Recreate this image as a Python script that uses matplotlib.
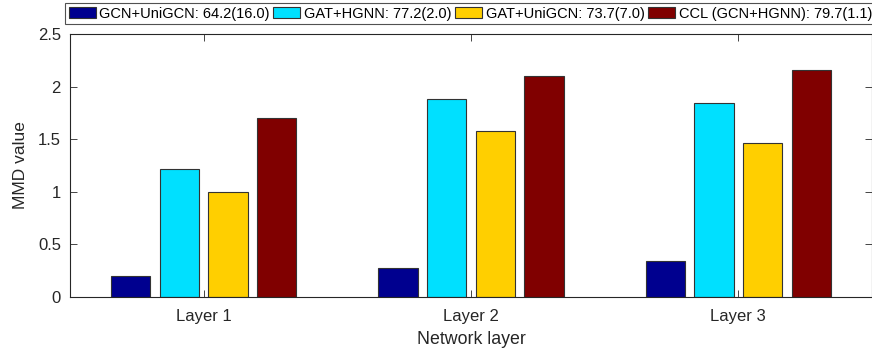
import numpy as np
import matplotlib.pyplot as plt

plt.rcParams['font.family'] = ['Liberation Sans', 'DejaVu Sans']

# MMD values per network layer for each model combination
layers = ['Layer 1', 'Layer 2', 'Layer 3']
gcn_unigcn = [0.20, 0.28, 0.34]
gat_hgnn = [1.22, 1.88, 1.84]
gat_unigcn = [1.00, 1.58, 1.46]
ccl_gcn_hgnn = [1.70, 2.10, 2.16]

series = [gcn_unigcn, gat_hgnn, gat_unigcn, ccl_gcn_hgnn]
labels = ['GCN+UniGCN: 64.2(16.0)', 'GAT+HGNN: 77.2(2.0)',
          'GAT+UniGCN: 73.7(7.0)', 'CCL (GCN+HGNN): 79.7(1.1)']
colors = ['#00008F', '#00E0FF', '#FFCF00', '#800000']

yticks = [0, 0.5, 1, 1.5, 2, 2.5]
ytick_labels = ['0', '0.5', '1', '1.5', '2', '2.5']

fig = plt.figure(figsize=(8.72, 3.55), dpi=100)
ax = fig.add_axes([0.0803, 0.1634, 0.9197, 0.7408])

x = np.arange(1, len(layers) + 1)
width = 0.148
step = 0.182
for i, vals in enumerate(series):
    offset = (i - 1.5) * step
    ax.bar(x + offset, vals, width, color=colors[i], edgecolor='#333333',
           linewidth=0.8, label=labels[i])

ax.set_xlim(0.5, 3.5)
ax.set_ylim(0, 2.5)
ax.set_xticks(x)
ax.set_xticklabels(layers)
ax.set_yticks(yticks)
ax.set_yticklabels(ytick_labels)
ax.tick_params(direction='in', top=True, right=True, length=5,
               labelsize=12, colors='#262626', width=0.6)
ax.tick_params(axis='x', pad=8.5)
ax.tick_params(axis='y', pad=6.5)
for s in ax.spines.values():
    s.set_color('#262626')
    s.set_linewidth(0.8)
ax.set_xlabel('Network layer', fontsize=12.8, color='#262626', labelpad=5)
ax.set_ylabel('MMD value', fontsize=12.5, color='#262626', labelpad=7)

leg = fig.legend(loc='upper left', bbox_to_anchor=(65 / 872, 1 - 3 / 355),
                 ncol=4, fontsize=10.5, frameon=True, fancybox=False,
                 edgecolor='#262626', handlelength=1.85, handleheight=0.75,
                 handletextpad=0.25, columnspacing=0.25, borderpad=0.25,
                 borderaxespad=0)
leg.get_frame().set_linewidth(0.8)

fig.savefig('out.png', dpi=100)
